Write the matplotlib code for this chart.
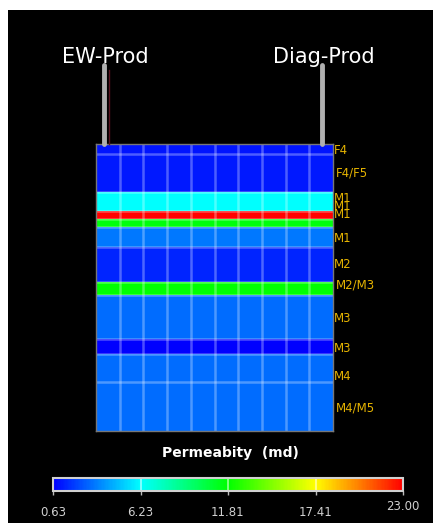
import numpy as np
import matplotlib
matplotlib.use("Agg")
import matplotlib.pyplot as plt
from matplotlib.colors import LinearSegmentedColormap

# layers from top to bottom
layer_names = ["F4", "F4/F5", "M1", "M1", "M1", "M1", "M2", "M2/M3", "M3", "M3", "M4", "M4/M5"]
layer_thickness = [10, 38, 19, 8, 8, 20, 35, 13, 44, 15, 28, 49]
permeability = [1.1, 1.2, 6.23, 23.0, 11.5, 3.3, 1.5, 11.81, 3.0, 0.63, 3.0, 3.0]
label_depth = [6, 29, 54, 63, 71, 94, 120, 141, 174, 205, 232, 264]
n_cols = 10

wells = ["EW-Prod", "Diag-Prod"]
well_col = [0.35, 9.55]
well_height = 79

cbar_ticks = [0.63, 6.23, 11.81, 17.41, 23.00]
vmin, vmax = 0.63, 23.00

cmap = LinearSegmentedColormap.from_list(
    "perm", ["#0000ff", "#00ffff", "#00ff00", "#ffff00", "#ff0000"])

W, H = 438, 523
fig = plt.figure(figsize=(W / 100, H / 100), dpi=100, facecolor="white")

bg = fig.add_axes([8 / W, 0, 425 / W, 513 / H], zorder=-5)
bg.set_facecolor("black")
bg.set_xticks([])
bg.set_yticks([])
for s in bg.spines.values():
    s.set_visible(False)

ax = fig.add_axes([96 / W, 1 - 431 / H, 237 / W, 287 / H])
y_edges = np.concatenate([[0], np.cumsum(layer_thickness)])
x_edges = np.arange(n_cols + 1)
grid = np.repeat(np.array(permeability)[:, None], n_cols, axis=1)
mesh = ax.pcolormesh(x_edges, y_edges, grid, cmap=cmap, vmin=vmin, vmax=vmax)
ax.set_xlim(0, n_cols)
ax.set_ylim(y_edges[-1], 0)
ax.set_xticks([])
ax.set_yticks([])
for s in ax.spines.values():
    s.set_color("#777777")
    s.set_linewidth(1)

for x in x_edges[1:-1]:
    ax.axvline(x, color="white", alpha=0.3, lw=1.8)
for y in y_edges[1:-1]:
    ax.axhline(y, color="white", alpha=0.3, lw=1.8)

for name, d in zip(layer_names, label_depth):
    xoff = 1.012 if "/" in name else 1.004
    ax.text(xoff, d, name, transform=ax.get_yaxis_transform(), color="#e6b400",
            fontsize=8.5, va="center", ha="left", clip_on=False)

for name, wx in zip(wells, well_col):
    ax.plot([wx, wx], [0, -well_height], color="#b0b0b0", lw=3.5,
            solid_capstyle="round", clip_on=False, zorder=5)
    ax.text(wx + 0.05, -well_height - 2, name, color="white", fontsize=15,
            ha="center", va="baseline", clip_on=False)
ax.plot([well_col[0] + 0.2] * 2, [0, -well_height + 5], color="#5a1420",
        lw=1, clip_on=False, zorder=4)

fig.text(230 / W, 1 - 453 / H, "Permeabity  (md)", color="white",
         fontsize=10, fontweight="bold", ha="center", va="center")

cax = fig.add_axes([53 / W, 1 - 491 / H, 350 / W, 13 / H])
cb = fig.colorbar(mesh, cax=cax, orientation="horizontal")
cb.outline.set_edgecolor("#d0d0d0")
cb.outline.set_linewidth(1.5)
cax.set_xticks(cbar_ticks)
cax.set_xticklabels([f"{t:.2f}" for t in cbar_ticks[:-1]] + [""])
cax.tick_params(axis="x", colors="#bbbbbb", length=3, width=1, pad=8,
                labelsize=8.5, labelcolor="#d0d0d0")
for t in cbar_ticks[1:-1]:
    cax.axvline(t, color="white", alpha=0.6, lw=1.2)
cax.annotate(f"{cbar_ticks[-1]:.2f}", xy=(cbar_ticks[-1], 0),
             xycoords=("data", "axes fraction"), xytext=(0, -11.5),
             textcoords="offset points", ha="center", va="center",
             fontsize=8.5, color="#d0d0d0", annotation_clip=False)

fig.savefig("out.png", dpi=100, facecolor=fig.get_facecolor())
